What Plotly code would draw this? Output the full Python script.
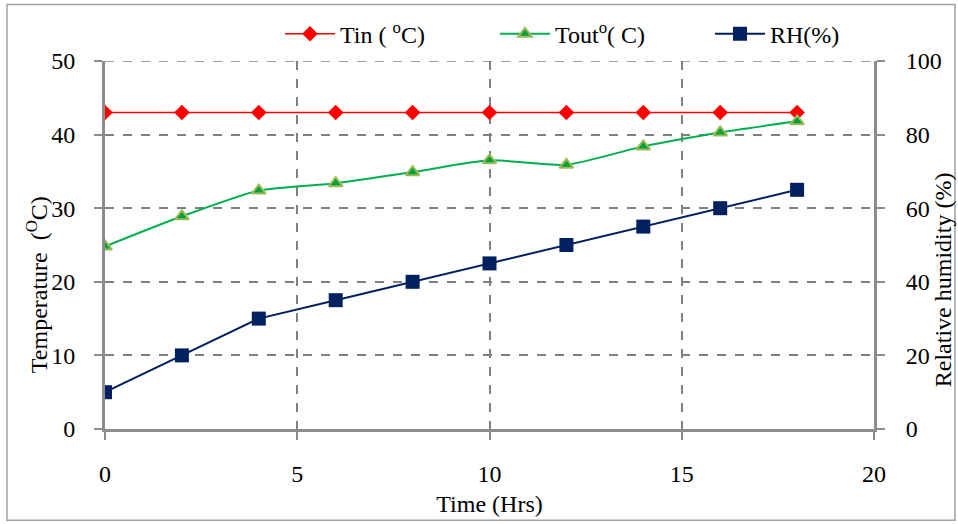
import plotly.graph_objects as go

time_hrs = [0, 2, 4, 6, 8, 10, 12, 14, 16, 18]
tin = [43, 43, 43, 43, 43, 43, 43, 43, 43, 43]
tout = [24.8, 28.9, 32.4, 33.4, 34.9, 36.5, 35.9, 38.4, 40.3, 41.8]
rh = [10, 20, 30, 35, 40, 45, 50, 55, 60, 65]

FONT = "Liberation Serif"
FS = 24
W, H = 958, 524
L, R, T, B = 105, 84, 58, 95
pw, ph = W - L - R, H - T - B

fig = go.Figure()
fig.add_trace(go.Scatter(x=time_hrs, y=tin, name="Tin ( <sup>o</sup>C)", mode="lines+markers",
                         line=dict(color="#FF0000", width=1.5),
                         marker=dict(symbol="diamond", size=12, color="#FF0000")))
fig.add_trace(go.Scatter(x=time_hrs, y=tout, name="Tout<sup>o</sup>( C)", mode="lines+markers",
                         line=dict(color="#00B050", width=2, shape="spline", smoothing=0.6),
                         marker=dict(symbol="triangle-up", size=12, color="#00A03C",
                                     line=dict(color="#9BBB59", width=2))))
fig.add_trace(go.Scatter(x=time_hrs, y=rh, name="RH(%)", mode="lines+markers", yaxis="y2",
                         line=dict(color="#002060", width=2),
                         marker=dict(symbol="square", size=14, color="#002060")))

axis_common = dict(showline=True, linecolor="#8C8C8C", linewidth=3, ticks="outside",
                   tickcolor="#8C8C8C", tickwidth=2, ticklen=8, automargin=False,
                   tickfont=dict(family=FONT, size=FS, color="#000"), zeroline=False)

fig.update_layout(
    width=W, height=H, margin=dict(l=L, r=R, t=T, b=B),
    plot_bgcolor="white", paper_bgcolor="white",
    font=dict(family=FONT, size=FS, color="#000"),
    xaxis=dict(range=[0, 20], dtick=5, showgrid=True, gridcolor="#808080", griddash="dash",
               gridwidth=1.5, ticklabelstandoff=13,
               title=dict(text="Time (Hrs)", font=dict(family=FONT, size=FS), standoff=10),
               **axis_common),
    yaxis=dict(range=[0, 50], dtick=10, showgrid=True, gridcolor="#808080", griddash="dash",
               gridwidth=1.5, ticklabelstandoff=14, **axis_common),
    yaxis2=dict(range=[0, 100], dtick=20, overlaying="y", side="right", showgrid=False,
                ticklabelstandoff=16, **axis_common),
    legend=dict(orientation="h", x=(280 - L) / pw, xanchor="left", y=1 + (T - 31) / ph,
                yanchor="middle", font=dict(family=FONT, size=FS), bgcolor="rgba(0,0,0,0)",
                itemwidth=50, entrywidth=150, entrywidthmode="pixels", tracegroupgap=0),
    showlegend=True,
)

# dashed gridline along the top of the plot area (y = 50)
fig.add_shape(type="line", xref="paper", yref="y", x0=0, x1=1, y0=50, y1=50,
              line=dict(color="#808080", width=1.5, dash="dash"), layer="below")

fig.add_annotation(text="Temperature  (<sup>O</sup>C)", xref="paper", yref="paper",
                   x=(37 - L) / pw, y=(H - B - 284) / ph, textangle=-90, showarrow=False,
                   font=dict(family=FONT, size=FS), xanchor="center", yanchor="middle")
fig.add_annotation(text="Relative humidity (%)", xref="paper", yref="paper",
                   x=(943 - L) / pw, y=(H - B - 278) / ph, textangle=-90, showarrow=False,
                   font=dict(family=FONT, size=FS), xanchor="center", yanchor="middle")

fig.add_shape(type="rect", xref="paper", yref="paper",
              x0=(7 - L) / pw, x1=(955 - L) / pw, y0=(H - B - 521) / ph, y1=(H - B - 1) / ph,
              line=dict(color="#A0A0A0", width=1.5), fillcolor="rgba(0,0,0,0)", layer="below")

fig.write_html("out.html", config={"displayModeBar": False},
               post_script="document.body.style.margin='0';")
